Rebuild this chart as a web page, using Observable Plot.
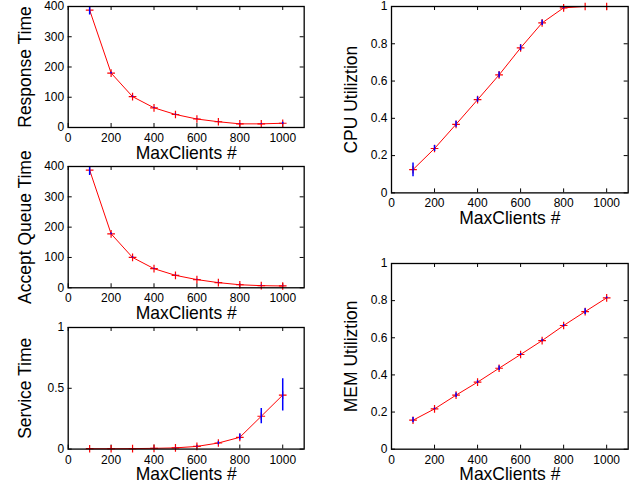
<!DOCTYPE html>
<html>
<head>
<meta charset="utf-8">
<script src="https://cdn.jsdelivr.net/npm/d3@7"></script>
<script src="https://cdn.jsdelivr.net/npm/@observablehq/plot@0.6"></script>
<style>
  html, body { margin: 0; padding: 0; background: white; }
  #wrap { position: relative; width: 636px; height: 493px; overflow: hidden; }
  #wrap svg { position: absolute; }
</style>
</head>
<body>
<div id="wrap"></div>
<script>
// ---- data ----
const clients = [100, 200, 300, 400, 500, 600, 700, 800, 900, 1000];
const xTicks = [0, 200, 400, 600, 800, 1000];

const responseTime   = [388, 180, 102, 65, 43, 28, 19, 12, 12, 14];
const responseLo     = [372, 177, 100, 63.5, 41.5, 27, 18, 11, 11, 11];
const responseHi     = [400, 183, 104, 66.5, 44.5, 29, 20, 13, 13, 17];

const acceptTime     = [388, 178, 100, 63, 41, 27, 17, 10, 7, 6];
const acceptLo       = [370, 175, 98, 61.5, 39.5, 26, 16, 9, 6, 5];
const acceptHi       = [400, 181, 102, 64.5, 42.5, 28, 18, 11, 8, 7];

const serviceTime    = [0.003, 0.003, 0.004, 0.006, 0.010, 0.022, 0.050, 0.097, 0.270, 0.444];
const serviceLo      = [0.002, 0.002, 0.003, 0.005, 0.008, 0.018, 0.035, 0.075, 0.208, 0.314];
const serviceHi      = [0.004, 0.004, 0.005, 0.007, 0.012, 0.026, 0.060, 0.125, 0.333, 0.578];

const cpuUtil        = [0.125, 0.238, 0.368, 0.500, 0.633, 0.778, 0.912, 0.993, 1.000, 1.000];
const cpuLo          = [0.086, 0.222, 0.352, 0.486, 0.617, 0.762, 0.898, 0.988, 0.999, 0.999];
const cpuHi          = [0.160, 0.254, 0.384, 0.514, 0.649, 0.794, 0.926, 0.998, 1.000, 1.000];

const memUtil        = [0.156, 0.217, 0.291, 0.361, 0.436, 0.510, 0.585, 0.666, 0.741, 0.815];
const memLo          = [0.142, 0.212, 0.279, 0.354, 0.424, 0.505, 0.578, 0.660, 0.726, 0.810];
const memHi          = [0.170, 0.222, 0.303, 0.368, 0.448, 0.515, 0.592, 0.672, 0.756, 0.820];

const ticks400 = [0, 100, 200, 300, 400];
const ticksHalf = [0, 0.5, 1];
const ticksFifth = [0, 0.2, 0.4, 0.6, 0.8, 1];

const font = "'Liberation Sans', Arial, Helvetica, sans-serif";
const wrap = document.getElementById("wrap");

function panel({left, x0, x1, y0, y1, yDomain, yTicks, values, lo, hi, ylabel, ylabelDx}) {
  const mTop = 8, mBottom = 44;
  const width = x1 - left + 14;
  const innerW = x1 - x0;
  const innerH = y1 - y0;
  const data = clients.map((c, i) => ({x: c, y: values[i], lo: lo[i], hi: hi[i]}));
  const svg = Plot.plot({
    width,
    height: innerH + mTop + mBottom,
    marginLeft: x0 - left,
    marginRight: width - (x1 - left),
    marginTop: mTop,
    marginBottom: mBottom,
    style: {fontFamily: font, fontSize: "12px", background: "none", overflow: "visible", color: "black"},
    x: {domain: [0, 1100]},
    y: {domain: yDomain},
    marks: [
      Plot.axisX({ticks: xTicks, tickSize: 0, tickPadding: 6, label: null, fontSize: 12, tickFormat: d => String(d)}),
      Plot.axisY({ticks: yTicks, tickSize: 0, tickPadding: 4, label: null, fontSize: 12, tickFormat: d => String(d)}),
      // inward ticks on all four sides
      Plot.tickX(xTicks, {x: d => d, insetTop: innerH - 4, stroke: "black", strokeWidth: 1}),
      Plot.tickX(xTicks, {x: d => d, insetBottom: innerH - 4, stroke: "black", strokeWidth: 1}),
      Plot.tickY(yTicks, {y: d => d, insetRight: innerW - 4, stroke: "black", strokeWidth: 1}),
      Plot.tickY(yTicks, {y: d => d, insetLeft: innerW - 4, stroke: "black", strokeWidth: 1}),
      Plot.line(data, {x: "x", y: "y", stroke: "red", strokeWidth: 1}),
      Plot.dot(data, {x: "x", y: "y", symbol: "plus", r: 2.6, stroke: "red", strokeWidth: 1.2}),
      Plot.ruleX(data, {x: "x", y1: "lo", y2: "hi", stroke: "blue", strokeWidth: 1.5, clip: true}),
      Plot.frame({stroke: "black", strokeWidth: 1.3}),
      Plot.text(["MaxClients #"], {text: d => d, frameAnchor: "bottom", textAnchor: "middle", dy: 25.5, fontSize: 17.5, lineAnchor: "middle", fill: "black"}),
      Plot.text([ylabel], {text: d => d, frameAnchor: "left", textAnchor: "middle", dx: ylabelDx, rotate: -90, fontSize: 17.5, lineAnchor: "middle", fill: "black"})
    ]
  });
  svg.style.left = left + "px";
  svg.style.top = (y0 - mTop) + "px";
  wrap.appendChild(svg);
}

panel({left: 0, x0: 67.7, x1: 303.7, y0: 6.3, y1: 127.3, yDomain: [0, 400], yTicks: ticks400,
       values: responseTime, lo: responseLo, hi: responseHi, ylabel: "Response Time", ylabelDx: -43});
panel({left: 0, x0: 67.7, x1: 303.7, y0: 166, y1: 287.3, yDomain: [0, 400], yTicks: ticks400,
       values: acceptTime, lo: acceptLo, hi: acceptHi, ylabel: "Accept Queue Time", ylabelDx: -43});
panel({left: 0, x0: 67.7, x1: 303.7, y0: 326.7, y1: 448.3, yDomain: [0, 1], yTicks: ticksHalf,
       values: serviceTime, lo: serviceLo, hi: serviceHi, ylabel: "Service Time", ylabelDx: -43});
panel({left: 330, x0: 391, x1: 627.7, y0: 6.3, y1: 192.7, yDomain: [0, 1], yTicks: ticksFifth,
       values: cpuUtil, lo: cpuLo, hi: cpuHi, ylabel: "CPU Utiliztion", ylabelDx: -40});
panel({left: 330, x0: 391, x1: 627.7, y0: 263.3, y1: 449, yDomain: [0, 1], yTicks: ticksFifth,
       values: memUtil, lo: memLo, hi: memHi, ylabel: "MEM Utiliztion", ylabelDx: -40});
</script>
</body>
</html>
